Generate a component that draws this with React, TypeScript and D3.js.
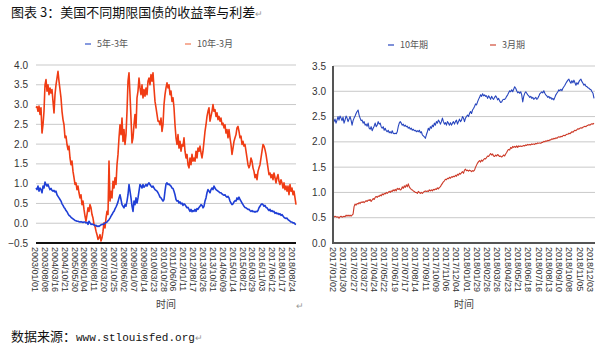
import * as d3 from 'd3'
import React from 'react'

// left panel: spreads (5y-3y, 10y-3m), 2003-2018
const spreadDates = ['2003/01/01', '2003/08/08', '2004/03/16', '2004/10/21', '2005/05/30', '2006/01/04', '2006/08/11', '2007/03/20', '2007/10/25', '2008/06/02', '2009/01/07', '2009/08/14', '2010/03/23', '2010/10/28', '2011/06/06', '2012/01/11', '2012/08/17', '2013/03/26', '2013/10/31', '2014/06/09', '2015/01/14', '2015/08/21', '2016/03/29', '2016/11/03', '2017/06/12', '2018/01/17', '2018/08/24']

const spread5y3y = [
  0.89, 0.85, 0.94, 0.81, 0.89, 0.85, 0.77, 0.94, 0.89, 1.04, 0.98, 0.94, 0.98, 0.91, 0.85, 0.88, 0.83, 0.81, 0.83, 0.79,
  0.81, 0.72, 0.68, 0.64, 0.6, 0.56, 0.49, 0.45, 0.4, 0.37, 0.32, 0.29, 0.24, 0.2, 0.18, 0.15, 0.13, 0.11, 0.09,
  0.07, 0.06, 0.05, 0.05, 0.04, 0.03, 0.04, 0.03, 0.02, 0.03, 0.03, 0.01, 0.02, -0.03, 0.05, 0.01, -0.03, -0.02, -0.03, -0.04,
  -0.06, -0.05, -0.08, -0.07, -0.08, -0.06,
  -0.04, -0.03, -0.03, -0.02, 0.0, 0.02, 0.03, 0.06, 0.09, 0.13, 0.18, 0.22, 0.27, 0.3, 0.36, 0.41, 0.47, 0.54,
  0.64, 0.72, 0.6, 0.47, 0.43, 0.39, 0.47, 0.43, 0.56, 0.72, 0.98, 0.81, 0.64, 0.43, 0.3, 0.56, 0.47, 0.64, 0.51, 0.64,
  0.81, 0.98, 0.94, 0.89, 0.98, 0.91, 0.94, 0.98, 0.94, 0.99, 1.02, 0.98, 0.94, 0.91, 0.94, 0.89, 0.85, 0.83, 0.81, 0.77, 0.72, 0.66,
  0.64, 0.6, 0.56, 0.6, 0.81, 0.99, 1.02, 0.98, 0.99, 0.96, 0.94, 0.89, 0.88, 0.81, 0.72, 0.6, 0.56, 0.57, 0.51, 0.54,
  0.49, 0.51, 0.45, 0.49, 0.47, 0.43, 0.39, 0.4, 0.35, 0.3, 0.35, 0.29, 0.32, 0.3, 0.35, 0.3, 0.37, 0.35, 0.4, 0.43,
  0.47, 0.45, 0.39, 0.43, 0.56, 0.64, 0.77, 0.85, 0.81, 0.77, 0.85, 0.89, 0.85, 0.94, 0.89, 0.85, 0.83, 0.81, 0.79, 0.77,
  0.77, 0.74, 0.72, 0.71, 0.72, 0.68, 0.66, 0.68, 0.64,
  0.56, 0.51, 0.47, 0.49, 0.54, 0.57, 0.56, 0.64, 0.6, 0.66, 0.6, 0.56, 0.51, 0.47, 0.43, 0.4, 0.39, 0.37, 0.35, 0.35,
  0.32, 0.3, 0.32, 0.29, 0.3, 0.28, 0.3, 0.29, 0.32, 0.39, 0.43, 0.47, 0.49, 0.47, 0.43, 0.45, 0.4, 0.39, 0.35, 0.32,
  0.35, 0.3, 0.32, 0.29, 0.3, 0.25, 0.27, 0.24, 0.25, 0.22, 0.24, 0.2, 0.22, 0.18, 0.15, 0.13, 0.12, 0.13, 0.09, 0.07,
  0.05, 0.03, 0.03, 0.01, 0.01, -0.02, -0.03,
]

const spread10y3m = [
  2.92, 2.95, 2.83, 2.96, 2.75, 2.92, 2.28, 2.49, 2.83, 3.5, 3.63, 3.34, 3.5, 3.25, 3.42, 3.29, 3.38, 3.08, 2.79, 3.25,
  3.5, 3.67, 3.84, 3.59, 3.38, 3.17, 2.83, 2.62, 2.49, 2.16, 2.2, 1.99, 1.86, 1.95, 1.65, 1.48, 1.57, 1.31, 1.15, 0.98,
  1.02, 0.85, 0.94, 0.77, 0.64, 0.72, 0.47, 0.56, 0.35, 0.18, 0.05, 0.22, 0.39, 0.3, 0.47, 0.39, 0.22, 0.13, -0.03, -0.08,
  -0.2, -0.29, -0.41,
  -0.37, -0.29, -0.45, -0.37, -0.2, 0.01, -0.12, 0.13, 0.3, 0.22, 1.57, 0.56, 0.81, 0.64, 1.06, 0.89, 1.15, 0.98, 1.48, 1.74,
  2.16, 2.49, 2.24, 2.66, 2.07, 2.37, 1.99, 2.24, 2.83, 3.59, 3.8, 3.25, 2.66, 2.03, 2.16, 2.49, 2.75, 2.41, 3.17, 3.34,
  3.67, 3.42, 3.25, 3.5, 3.17, 3.38, 3.21, 3.42, 3.25, 3.59, 3.67, 3.5, 3.76, 3.59, 3.8, 3.42, 3.08, 2.92, 2.75, 2.58,
  2.58, 2.49, 2.66, 2.32, 2.49, 3.0, 3.25, 3.42, 3.55, 3.42, 3.5, 3.25, 3.34, 3.08, 3.17, 2.92, 2.49, 2.16, 1.99, 2.24,
  1.9, 2.07, 1.82, 1.99, 1.95, 2.16, 1.82, 1.65, 1.74, 1.48, 1.4, 1.65, 1.48, 1.74, 1.57, 1.65, 1.57, 1.82, 1.65, 1.9,
  1.82, 1.95, 1.78, 1.65, 1.82, 2.07, 2.32, 2.49, 2.7, 2.83, 2.92, 2.58, 2.7, 2.83, 3.0, 2.83, 2.87, 2.7, 2.79, 2.62,
  2.7, 2.58, 2.66, 2.49, 2.53, 2.41, 2.49, 2.28, 2.37, 2.16,
  2.37, 2.16, 1.99, 1.74, 1.9, 2.07, 2.16, 2.24, 2.41, 2.45, 2.32, 2.16, 2.2, 1.99, 2.07, 1.95, 1.99, 1.82, 1.65, 1.48,
  1.4, 1.48, 1.65, 1.57, 1.4, 1.31, 1.15, 1.23, 1.1, 1.31, 1.4, 1.48, 1.65, 1.82, 1.99, 1.95, 1.86, 1.74, 1.57, 1.4,
  1.23, 1.27, 1.15, 1.23, 1.1, 1.27, 1.15, 1.02, 1.15, 1.23, 1.06, 0.98, 1.1, 1.02, 0.89, 1.02, 0.85, 0.94, 0.81, 0.94,
  0.72, 0.98, 0.81, 0.89, 0.72, 0.81, 0.64, 0.47,
]

// right panel: yields (10y, 3m), 2017-2018
const yieldDates = ['2017/01/02', '2017/01/30', '2017/02/27', '2017/03/27', '2017/04/24', '2017/05/22', '2017/06/19', '2017/07/17', '2017/08/14', '2017/09/11', '2017/10/09', '2017/11/06', '2017/12/04', '2018/01/01', '2018/01/29', '2018/02/26', '2018/03/26', '2018/04/23', '2018/05/21', '2018/06/18', '2018/07/16', '2018/08/13', '2018/09/10', '2018/10/08', '2018/11/05', '2018/12/03']

const yield10y = [
  2.47, 2.4, 2.45, 2.37, 2.43, 2.5, 2.43, 2.51, 2.47, 2.42, 2.49, 2.37, 2.43, 2.51, 2.47, 2.4, 2.45, 2.5, 2.43, 2.33,
  2.42, 2.47, 2.51, 2.56, 2.6, 2.63, 2.53, 2.47, 2.42, 2.43, 2.37, 2.4, 2.33, 2.35, 2.31, 2.37, 2.27, 2.25, 2.3, 2.22,
  2.27, 2.31, 2.37, 2.3, 2.33, 2.4, 2.35, 2.37, 2.3, 2.27, 2.3, 2.23, 2.27, 2.22, 2.2, 2.23, 2.18, 2.2, 2.17, 2.22,
  2.17, 2.16, 2.17, 2.16, 2.2, 2.3, 2.37, 2.4, 2.37, 2.33, 2.35, 2.31, 2.33, 2.3, 2.31, 2.27, 2.29, 2.25, 2.27, 2.23,
  2.25, 2.22, 2.23, 2.2, 2.22,
  2.2, 2.23, 2.18, 2.2, 2.14, 2.12, 2.1, 2.07, 2.14, 2.2, 2.27, 2.23, 2.3, 2.27, 2.33, 2.3, 2.37, 2.33, 2.4, 2.37,
  2.43, 2.4, 2.35, 2.4, 2.47, 2.4, 2.35, 2.38, 2.33, 2.4, 2.37, 2.33, 2.38, 2.33, 2.37, 2.4, 2.35, 2.4, 2.43, 2.35,
  2.4, 2.45, 2.4, 2.43, 2.5, 2.47, 2.4, 2.47, 2.5, 2.53, 2.5, 2.56, 2.6, 2.56, 2.63, 2.66, 2.7, 2.75, 2.73, 2.79,
  2.84, 2.88, 2.93, 2.9, 2.95, 2.91, 2.93, 2.9, 2.91, 2.86, 2.91, 2.88, 2.84, 2.9, 2.86, 2.84, 2.88, 2.91, 2.88, 2.83,
  2.86, 2.81, 2.78, 2.79, 2.83, 2.84,
  2.84, 2.86, 2.9, 2.93, 2.97, 3.01, 2.99, 3.03, 2.99, 3.04, 3.09, 3.06, 3.01, 2.97, 2.99, 2.96, 2.99, 2.93, 2.79, 2.9,
  2.96, 2.99, 2.96, 2.93, 2.91, 2.88, 2.9, 2.86, 2.88, 2.84, 2.86, 2.88, 2.84, 2.86, 2.9, 2.95, 2.97, 2.99, 2.97, 3.01,
  2.96, 2.93, 2.91, 2.88, 2.9, 2.86, 2.88, 2.84, 2.86, 2.83, 2.88, 2.93, 2.96, 2.99, 3.03, 3.01, 3.04, 3.01, 3.06, 3.09,
  3.12, 3.16, 3.19, 3.22, 3.24, 3.19, 3.16, 3.21, 3.17, 3.22, 3.17, 3.12, 3.17, 3.14, 3.19, 3.22, 3.24, 3.19, 3.16, 3.12,
  3.14, 3.1, 3.09, 3.07, 3.06, 3.04, 3.03, 2.99, 2.96, 2.86,
]

const yield3m = [
  0.52, 0.51, 0.53, 0.52, 0.51, 0.52, 0.49, 0.52, 0.53, 0.51, 0.52, 0.53, 0.52, 0.55, 0.53, 0.55, 0.53, 0.55, 0.53, 0.55,
  0.57, 0.72, 0.77, 0.75, 0.78, 0.77, 0.8, 0.78, 0.81, 0.8, 0.82, 0.8, 0.82, 0.84, 0.82, 0.85, 0.84, 0.86, 0.82, 0.85,
  0.88, 0.86, 0.9, 0.92, 0.9, 0.93, 0.92, 0.95, 0.93, 0.97, 0.95, 0.98, 0.97, 1.0, 0.98, 1.0, 1.02, 1.0, 1.03, 1.02,
  1.05, 1.03, 1.06, 1.03, 1.08, 1.06, 1.08, 1.05, 1.06, 1.11, 1.08, 1.13, 1.1, 1.15, 1.11, 1.17, 1.11, 1.08, 1.06, 1.05,
  1.03, 1.02, 1.0, 1.0, 0.98,
  1.02, 1.0, 0.98, 1.0, 0.98, 1.0, 1.02, 1.03, 1.02, 1.03, 1.02, 1.05, 1.03, 1.05, 1.03, 1.06, 1.05, 1.07, 1.06, 1.09,
  1.07, 1.1, 1.11, 1.15, 1.18, 1.21, 1.23, 1.26, 1.25, 1.28, 1.27, 1.3, 1.28, 1.31, 1.3, 1.32, 1.31, 1.34, 1.32, 1.36,
  1.34, 1.38, 1.36, 1.39, 1.41, 1.38, 1.44, 1.46, 1.43, 1.44, 1.42, 1.44, 1.43, 1.41, 1.43, 1.42, 1.44, 1.5, 1.54, 1.58,
  1.61, 1.63, 1.6, 1.64, 1.62, 1.65, 1.67, 1.66, 1.69, 1.72, 1.71, 1.74, 1.77, 1.74, 1.76, 1.72, 1.71, 1.74, 1.72, 1.75,
  1.73, 1.71, 1.72, 1.7, 1.72, 1.74,
  1.72, 1.76, 1.79, 1.83, 1.85, 1.84, 1.89, 1.87, 1.91, 1.89, 1.91, 1.89, 1.92, 1.89, 1.92, 1.91, 1.92, 1.91, 1.92, 1.93,
  1.92, 1.94, 1.93, 1.95, 1.94, 1.95, 1.94, 1.96, 1.95, 1.96, 1.95, 1.97, 1.96, 1.98, 1.97, 1.98, 1.97, 1.99, 1.99, 2.01,
  2.0, 2.02, 2.01, 2.03, 2.02, 2.04, 2.04, 2.06, 2.05, 2.07, 2.06, 2.08, 2.07, 2.09, 2.1, 2.09, 2.11, 2.1, 2.12, 2.13,
  2.12, 2.14, 2.15, 2.15, 2.17, 2.16, 2.18, 2.2, 2.19, 2.21, 2.23, 2.22, 2.24, 2.26, 2.25, 2.27, 2.28, 2.27, 2.29, 2.3,
  2.31, 2.3, 2.32, 2.33, 2.34, 2.33, 2.35, 2.36, 2.35, 2.37,
]

const spreadTicks = [-0.5, 0, 0.5, 1, 1.5, 2, 2.5, 3, 3.5, 4]
const yieldTicks = [0, 0.5, 1, 1.5, 2, 2.5, 3, 3.5]

const sans = '"Liberation Sans", Arial, "Noto Sans CJK SC", sans-serif'
const cjk = '"Noto Sans CJK SC", "Liberation Sans", sans-serif'

type Series = { values: number[], color: string, width: number }

const Panel = ({ x0, x1, top, bottom, domain, ticks, labels, labelRange, series, boxed, tickRight }: {
  x0: number, x1: number, top: number, bottom: number, domain: [number, number], ticks: number[],
  labels: string[], labelRange: [number, number], series: Series[], boxed: boolean, tickRight: number
}) => {
  const y = d3.scaleLinear().domain(domain).range([bottom, top])
  const lab = d3.scalePoint<string>().domain(labels).range(labelRange)
  return (
    <g>
      {ticks.map(t => (
        <g key={t}>
          {t > domain[0] && <line x1={x0} x2={x1} y1={y(t)} y2={y(t)} stroke="#c9c9c9" strokeWidth={1} />}
          <text x={tickRight} y={y(t)} dy="0.35em" textAnchor="end" fontSize={10} fill="#333" fontFamily={sans}>
            {d3.format('.1f')(t)}
          </text>
        </g>
      ))}
      {series.map((s, i) => {
        const x = d3.scaleLinear().domain([0, s.values.length - 1]).range([x0, boxed ? x1 - 1 : x1])
        const line = d3.line<number>().x((_, j) => x(j)).y(v => y(v))
        return <path key={i} d={line(s.values) || ''} fill="none" stroke={s.color} strokeWidth={s.width} strokeLinejoin="round" />
      })}
      <line x1={x0} x2={x1} y1={bottom} y2={bottom} stroke={boxed ? '#555' : '#111'} strokeWidth={2} />
      {boxed && <line x1={x0} x2={x0} y1={top} y2={bottom + 1} stroke="#555" strokeWidth={2} />}
      {labels.map(l => (
        <text key={l} transform={`translate(${lab(l)},${bottom + 4}) rotate(90)`} dominantBaseline="central"
          fontSize={9} fill="#333" fontFamily={sans}>{l}</text>
      ))}
      <text x={(x0 + x1) / 2} y={304} dy="0.35em" textAnchor="middle" fontSize={10} fill="#444" fontFamily={cjk}>时间</text>
    </g>
  )
}

const Legend = ({ x, y, color, label }: { x: number, y: number, color: string, label: string }) => (
  <g>
    <line x1={x} x2={x + 6} y1={y} y2={y} stroke={color} strokeWidth={1.2} />
    <text x={x + 12} y={y} dy="0.35em" fontSize={9} fill="#555" fontFamily={cjk}>{label}</text>
  </g>
)

export default function App() {
  return (
    <svg width={600} height={352} style={{ position: 'absolute', left: 0, top: 0, background: '#fff' }}>
      <rect width={600} height={352} fill="#fff" />
      <text x={11} y={17} fontSize={13} fill="#111" fontFamily={cjk}>
        图表 3：美国不同期限国债的收益率与利差<tspan fill="#999" fontSize={9}>↵</tspan>
      </text>

      <Legend x={85} y={44} color="#3557c9" label="5年-3年" />
      <Legend x={185} y={44} color="#f07a55" label="10年-3月" />
      <Panel x0={36} x1={296} top={65} bottom={243} domain={[-0.5, 4]} ticks={spreadTicks}
        labels={spreadDates} labelRange={[35, 292]} boxed={false} tickRight={28}
        series={[
          { values: spread10y3m, color: '#f03c14', width: 1.6 },
          { values: spread5y3y, color: '#1f3fd6', width: 1.6 },
        ]} />
      <text x={296} y={306} dy="0.35em" fontSize={9} fill="#999" fontFamily={sans}>↵</text>

      <Legend x={388} y={45} color="#2846be" label="10年期" />
      <Legend x={490} y={45} color="#d04a36" label="3月期" />
      <Panel x0={333} x1={595} top={66} bottom={243} domain={[0, 3.5]} ticks={yieldTicks}
        labels={yieldDates} labelRange={[333, 590]} boxed={true} tickRight={326}
        series={[
          { values: yield10y, color: '#2846be', width: 1.1 },
          { values: yield3m, color: '#cc3a28', width: 1.1 },
        ]} />

      <text x={11} y={341} fontSize={13} fill="#111" fontFamily={cjk}>
        数据来源：<tspan fontFamily='"Liberation Mono", "DejaVu Sans Mono", monospace' fontSize={11}>www.stlouisfed.org</tspan>
        <tspan fill="#999" fontSize={9}>↵</tspan>
      </text>
    </svg>
  )
}
